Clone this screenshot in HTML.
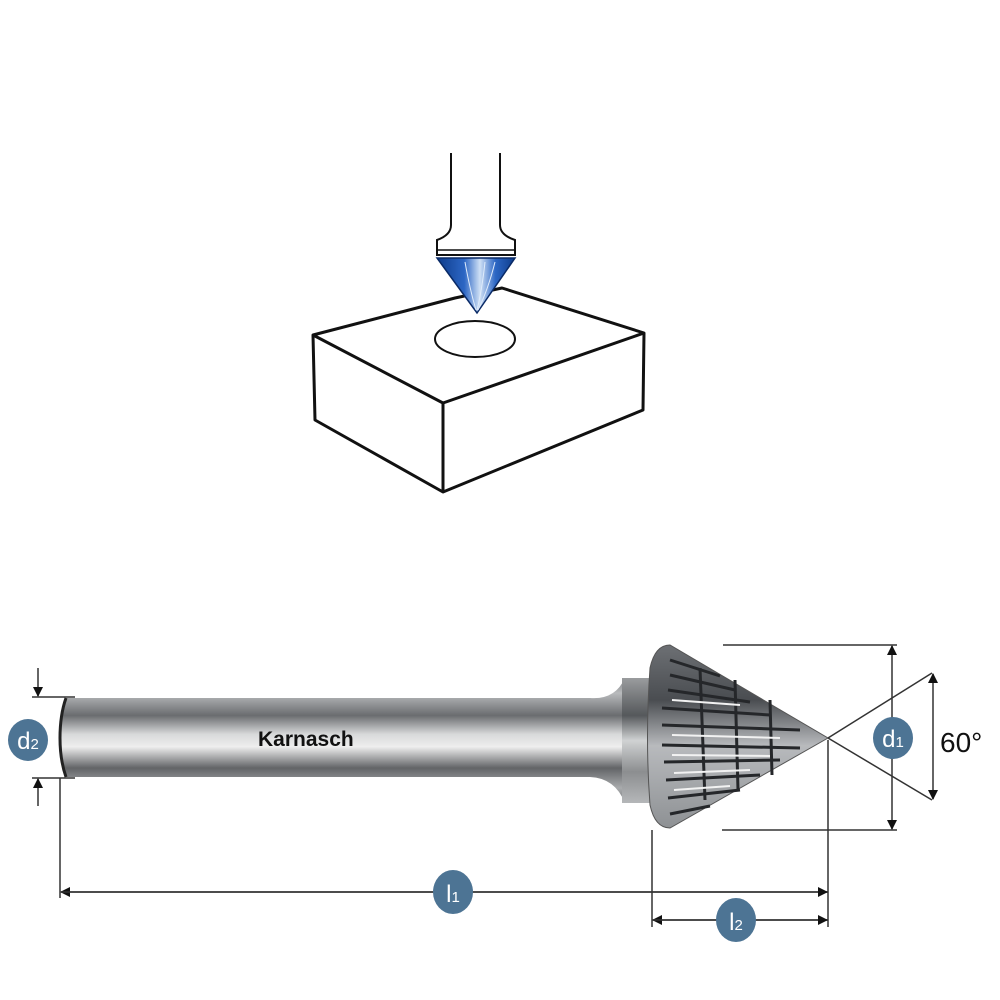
<!DOCTYPE html>
<html><head><meta charset="utf-8"><style>html,body{margin:0;padding:0;background:#fff}svg{display:block}</style></head>
<body>
<svg width="1000" height="1000" viewBox="0 0 1000 1000" xmlns="http://www.w3.org/2000/svg">
<defs>
<linearGradient id="sh" x1="0" y1="0" x2="0" y2="1">
<stop offset="0" stop-color="#7d7f82"/><stop offset="0.12" stop-color="#b9bbbd"/><stop offset="0.3" stop-color="#6a6c6f"/><stop offset="0.45" stop-color="#d8d9da"/><stop offset="0.55" stop-color="#eeeeee"/><stop offset="0.72" stop-color="#626467"/><stop offset="0.88" stop-color="#a9abad"/><stop offset="1" stop-color="#77797c"/>
</linearGradient>
<linearGradient id="hd" x1="0" y1="0" x2="0" y2="1">
<stop offset="0" stop-color="#9a9c9e"/><stop offset="0.3" stop-color="#55585b"/><stop offset="0.5" stop-color="#d0d2d3"/><stop offset="0.75" stop-color="#8c8e90"/><stop offset="1" stop-color="#b5b7b9"/>
</linearGradient>
<linearGradient id="cn" x1="0" y1="0" x2="0" y2="1">
<stop offset="0" stop-color="#6d7074"/><stop offset="0.3" stop-color="#4a4d51"/><stop offset="0.55" stop-color="#b8babd"/><stop offset="1" stop-color="#8e9194"/>
</linearGradient>
<linearGradient id="bl" x1="0" y1="0" x2="1" y2="0">
<stop offset="0" stop-color="#0d3b8a"/><stop offset="0.35" stop-color="#2c66c4"/><stop offset="0.55" stop-color="#cfe0f5"/><stop offset="0.75" stop-color="#2c66c4"/><stop offset="1" stop-color="#0d3b8a"/>
</linearGradient>
<marker id="ar" markerWidth="10" markerHeight="10" refX="9" refY="5" orient="auto" markerUnits="userSpaceOnUse"><path d="M0,0 L10,5 L0,10 Z" fill="#111"/></marker>
</defs>

<g fill="none" stroke="#111" stroke-width="3" stroke-linejoin="round">
<polygon points="313,335 455,298 502,288 644,333 643,410 443,492 315,420" fill="#fff"/>
<polyline points="313,335 443,403 644,333"/>
<line x1="443" y1="403" x2="443" y2="492"/>
</g>
<ellipse cx="475" cy="339" rx="40" ry="18" fill="#fff" stroke="#111" stroke-width="2"/>
<path d="M451,153 V225 Q451,235 437,240 V255 H515 V240 Q500,235 500,225 V153" fill="#fff" stroke="#111" stroke-width="2"/>
<line x1="437" y1="250" x2="515" y2="250" stroke="#111" stroke-width="1.5"/>
<path d="M437,258 L515,258 L477,313 Z" fill="url(#bl)" stroke="#0a2a66" stroke-width="1.5"/>
<path d="M465,262 Q470,290 476,310 M485,262 Q482,290 477,310 M495,262 Q488,290 478,310" stroke="#e0ecfb" stroke-width="1" fill="none"/>

<path d="M66,698 H590 Q615,700 625,678 H652 V803 H625 Q615,778 590,777 H66 Q60,760 60,738 Q60,715 66,698 Z" fill="url(#sh)"/>
<path d="M66,698 Q60,715 60,738 Q60,760 66,777" stroke="#222" stroke-width="3" fill="none"/>
<rect x="622" y="678" width="30" height="125" fill="url(#hd)"/>
<path d="M650,668 Q655,645 670,645 L828,738 L670,828 Q655,828 650,805 Q645,738 650,668 Z" fill="url(#cn)" stroke="#555" stroke-width="1"/>
<g stroke="#25272a" stroke-width="3" fill="none">
<path d="M670,660 L720,676 M670,675 L735,690 M668,690 L750,702 M662,708 L770,715 M662,725 L800,730 M662,745 L800,748 M664,762 L780,760 M666,780 L760,775 M668,798 L740,790 M670,814 L710,806"/>
<path d="M700,668 L705,800 M735,680 L738,790 M770,700 L772,775"/>
</g>
<g stroke="#f2f2f2" stroke-width="2" fill="none">
<path d="M672,700 L740,705 M672,735 L780,738 M672,755 L770,756 M674,773 L750,770 M674,790 L730,786"/>
</g>
<text x="258" y="746" font-family="Liberation Sans, sans-serif" font-weight="bold" font-size="21" fill="#111">Karnasch</text>

<g stroke="#333" stroke-width="1.5" fill="none">
<line x1="32" y1="697" x2="75" y2="697"/>
<line x1="32" y1="778" x2="75" y2="778"/>
<line x1="38" y1="668" x2="38" y2="696" marker-end="url(#ar)"/>
<line x1="38" y1="806" x2="38" y2="779" marker-end="url(#ar)"/>
<line x1="60" y1="778" x2="60" y2="898"/>
<line x1="828" y1="740" x2="828" y2="927"/>
<line x1="652" y1="830" x2="652" y2="927"/>
<line x1="828" y1="892" x2="61" y2="892" marker-end="url(#ar)"/>
<line x1="61" y1="892" x2="827" y2="892" marker-end="url(#ar)"/>
<line x1="828" y1="920" x2="653" y2="920" marker-end="url(#ar)"/>
<line x1="652" y1="920" x2="827" y2="920" marker-end="url(#ar)"/>
<line x1="723" y1="645" x2="897" y2="645"/>
<line x1="722" y1="830" x2="897" y2="830"/>
<line x1="892" y1="738" x2="892" y2="646" marker-end="url(#ar)"/>
<line x1="892" y1="738" x2="892" y2="829" marker-end="url(#ar)"/>
<line x1="828" y1="738" x2="932" y2="673"/>
<line x1="828" y1="738" x2="932" y2="800"/>
<line x1="933" y1="738" x2="933" y2="674" marker-end="url(#ar)"/>
<line x1="933" y1="738" x2="933" y2="799" marker-end="url(#ar)"/>
</g>
<text x="940" y="752" font-family="Liberation Sans, sans-serif" font-size="28" fill="#111">60°</text>

<g font-family="Liberation Sans, sans-serif" fill="#fff" font-size="24" text-anchor="middle">
<ellipse cx="28" cy="740" rx="20" ry="21" fill="#4d7494"/>
<text x="28" y="749">d<tspan font-size="15">2</tspan></text>
<ellipse cx="893" cy="738" rx="20" ry="21" fill="#4d7494"/>
<text x="893" y="747">d<tspan font-size="15">1</tspan></text>
<ellipse cx="453" cy="892" rx="20" ry="22" fill="#4d7494"/>
<text x="453" y="902">l<tspan font-size="15">1</tspan></text>
<ellipse cx="736" cy="920" rx="20" ry="22" fill="#4d7494"/>
<text x="736" y="930">l<tspan font-size="15">2</tspan></text>
</g>
</svg>
</body></html>
